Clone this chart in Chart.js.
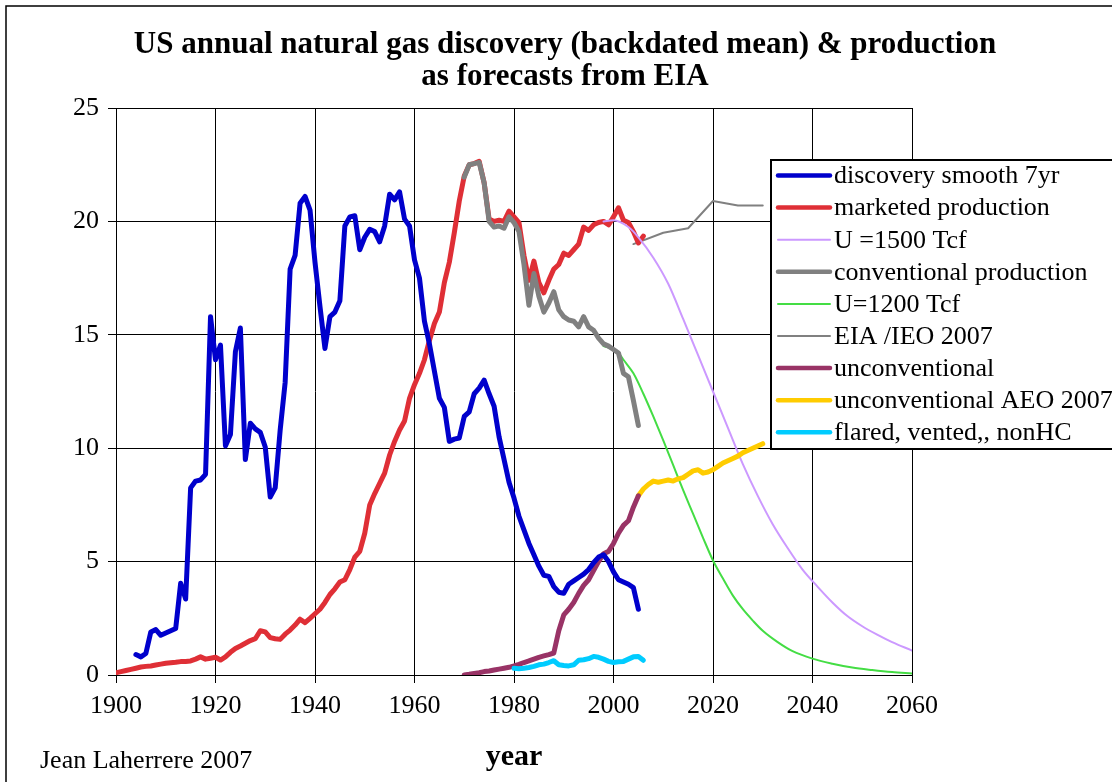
<!DOCTYPE html>
<html>
<head>
<meta charset="utf-8">
<title>US annual natural gas discovery & production</title>
<script src="https://cdn.jsdelivr.net/npm/chart.js@4.4.1/dist/chart.umd.min.js"></script>
<style>
  html, body { margin: 0; padding: 0; background: #fff; overflow: hidden; }
  #wrap { position: relative; width: 1112px; height: 782px; }
</style>
</head>
<body>
<div id="wrap"><canvas id="gasChart" width="1112" height="782"></canvas></div>
<script>
// US annual natural gas discovery (backdated mean) & production, Tcf/yr

const titleLines = ['US annual natural gas discovery (backdated mean) & production', 'as forecasts from EIA'];
const footerText = 'Jean Laherrere 2007';
const xTitle = 'year';

// discovery smooth 7yr, yearly from 1904
const discoveryStart = 1904;
const discoveryValues = [
  0.9, 0.8, 0.95, 1.9, 2.0, 1.75,
  1.85, 1.95, 2.05, 4.05, 3.35, 8.25, 8.55, 8.6, 8.85, 15.8,
  13.9, 14.55, 10.1, 10.6, 14.25, 15.3, 9.5, 11.1, 10.85, 10.7,
  10.05, 7.85, 8.25, 10.8, 12.9, 17.9, 18.5, 20.8, 21.1, 20.5,
  18.2, 16.25, 14.4, 15.8, 16.0, 16.5, 19.8, 20.2, 20.25, 18.75,
  19.3, 19.65, 19.55, 19.1, 19.8, 21.2, 20.95, 21.3, 20.1, 19.8,
  18.3, 17.5, 15.6, 14.6, 13.4, 12.2, 11.8, 10.3, 10.4, 10.45,
  11.4, 11.6, 12.4, 12.65, 13.0, 12.4, 11.85, 10.5, 9.5, 8.5,
  7.8, 7.0, 6.4, 5.8, 5.3, 4.8, 4.4, 4.35, 3.9, 3.65,
  3.6, 4.0, 4.15, 4.3, 4.45, 4.65, 4.95, 5.2, 5.3, 5.0,
  4.55, 4.2, 4.1, 4.0, 3.85, 2.9
];

// marketed production, yearly from 1900
const marketedStart = 1900;
const marketedValues = [
  0.1, 0.15, 0.2, 0.25, 0.3, 0.35, 0.38, 0.4, 0.44, 0.48,
  0.52, 0.54, 0.56, 0.59, 0.6, 0.62, 0.7, 0.8, 0.7, 0.74,
  0.78, 0.66, 0.8, 1.0, 1.17, 1.28, 1.4, 1.52, 1.6, 1.95,
  1.9, 1.65, 1.6, 1.57, 1.8, 1.98, 2.2, 2.46, 2.31, 2.5,
  2.7, 2.9, 3.2, 3.55, 3.8, 4.1, 4.2, 4.65, 5.2, 5.45,
  6.25, 7.5, 8.0, 8.45, 8.9, 9.7, 10.3, 10.8, 11.2, 12.2,
  12.8, 13.3, 13.9, 14.75, 15.5, 16.0, 17.3, 18.2, 19.5, 20.9,
  22.0, 22.5, 22.55, 22.65, 21.7, 20.1, 20.0, 20.05, 20.0, 20.45,
  20.2, 19.95, 18.5, 17.4, 18.25, 17.3, 16.85, 17.4, 17.9, 18.1,
  18.6, 18.5, 18.75, 19.0, 19.75, 19.6, 19.85, 19.95, 20.0, 19.85,
  20.2, 20.6, 20.05, 19.95, 19.55, 19.05, 19.35
];

// U = 1500 Tcf forecast
const u1500Years = [1998, 2000, 2003, 2005, 2008, 2011, 2014, 2017, 2020, 2023, 2026,
  2029, 2032, 2035, 2038, 2041, 2044, 2047, 2050, 2053, 2056, 2060];
const u1500Values = [20.0, 20.05, 19.75, 19.3, 18.4, 17.25, 15.7, 14.1, 12.5, 10.9, 9.3,
  7.9, 6.65, 5.6, 4.65, 3.9, 3.2, 2.6, 2.15, 1.78, 1.45, 1.08];

// conventional production, yearly from 1970
const conventionalStart = 1970;
const conventionalValues = [
  21.95, 22.5, 22.55, 22.6, 21.7, 20.0, 19.75, 19.8, 19.7, 20.2,
  19.95, 19.55, 18.1, 16.3, 17.7, 16.7, 16.0, 16.4, 16.9, 16.1,
  15.8, 15.65, 15.6, 15.35, 15.8, 15.35, 15.2, 14.85, 14.6, 14.5,
  14.35, 14.2, 13.3, 13.15, 12.1, 11.0
];

// U = 1200 Tcf forecast
const u1200Years = [1998, 2000, 2001, 2002, 2004, 2006, 2008, 2010, 2012, 2014, 2016, 2018, 2020,
  2022, 2024, 2026, 2028, 2030, 2033, 2036, 2040, 2044, 2048, 2052, 2056, 2060];
const u1200Values = [14.5, 14.35, 14.2, 13.9, 13.3, 12.4, 11.4, 10.35, 9.25, 8.15, 7.1, 6.05, 5.05,
  4.25, 3.5, 2.9, 2.4, 1.95, 1.45, 1.05, 0.72, 0.5, 0.33, 0.22, 0.13, 0.07];

// EIA / IEO 2007
const ieoYears = [2004, 2010, 2015, 2020, 2025, 2030];
const ieoValues = [19.0, 19.5, 19.7, 20.9, 20.7, 20.7];

// unconventional, yearly from 1970
const unconvStart = 1970;
const unconvValues = [
  0, 0.03, 0.07, 0.1, 0.15, 0.18, 0.22, 0.26, 0.3, 0.34,
  0.4, 0.47, 0.55, 0.62, 0.7, 0.78, 0.84, 0.9, 0.97, 1.95,
  2.65, 2.9, 3.2, 3.6, 3.95, 4.2, 4.6, 5.0, 5.35, 5.45,
  5.8, 6.25, 6.6, 6.8, 7.4, 7.9
];

// unconventional AEO 2007, yearly from 2005
const aeoStart = 2005;
const aeoValues = [
  7.9, 8.2, 8.4, 8.55, 8.5, 8.55, 8.6, 8.55, 8.65, 8.7,
  8.85, 9.0, 9.05, 8.9, 8.95, 9.05, 9.2, 9.35, 9.45, 9.55,
  9.65, 9.8, 9.9, 10.0, 10.1, 10.2
];

// flared, vented, nonHC, yearly from 1980
const flaredStart = 1980;
const flaredValues = [
  0.3, 0.28, 0.3, 0.33, 0.38, 0.45, 0.48, 0.55, 0.63, 0.45,
  0.42, 0.4, 0.45, 0.65, 0.67, 0.72, 0.82, 0.78, 0.7, 0.6,
  0.55, 0.58, 0.6, 0.7, 0.8, 0.82, 0.65
];

function yearly(start, values) {
  return values.map((v, i) => ({ x: start + i, y: v }));
}
function paired(years, values) {
  return years.map((yr, i) => ({ x: yr, y: values[i] }));
}

const SERIF = '"Liberation Serif", "Times New Roman", serif';
const THICK = 5;
const THIN = 2;

function line(label, data, color, width, order, smooth) {
  return {
    label: label,
    data: data,
    borderColor: color,
    backgroundColor: color,
    borderWidth: width,
    pointRadius: 0,
    fill: false,
    order: order,
    borderJoinStyle: 'round',
    borderCapStyle: 'round',
    cubicInterpolationMode: smooth ? 'monotone' : 'default',
    tension: 0
  };
}

// legend box + title + footer + outer frame
const decorPlugin = {
  id: 'decor',
  afterDraw(chart) {
    const ctx = chart.ctx;
    ctx.save();

    ctx.strokeStyle = '#000';
    ctx.lineWidth = 1.5;
    ctx.strokeRect(6, 6, 1300, 1000);

    ctx.fillStyle = '#000';
    ctx.textAlign = 'center';
    ctx.textBaseline = 'alphabetic';
    ctx.font = 'bold 31px ' + SERIF;
    ctx.fillText(titleLines[0], 565, 53);
    ctx.fillText(titleLines[1], 565, 85);

    ctx.textAlign = 'left';
    ctx.font = '26px ' + SERIF;
    ctx.fillText(footerText, 40, 768);

    // legend
    const boxLeft = 771, boxTop = 160, boxBottom = 449;
    ctx.fillStyle = '#fff';
    ctx.fillRect(boxLeft, boxTop, 400, boxBottom - boxTop);
    ctx.strokeStyle = '#000';
    ctx.lineWidth = 2;
    ctx.strokeRect(boxLeft, boxTop, 400, boxBottom - boxTop);

    ctx.font = '26px ' + SERIF;
    ctx.textBaseline = 'middle';
    chart.data.datasets.forEach((ds, i) => {
      const y = 175.5 + i * 32.1;
      ctx.strokeStyle = ds.borderColor;
      ctx.lineWidth = ds.borderWidth === THICK ? 4.5 : 2;
      ctx.lineCap = 'round';
      ctx.beginPath();
      ctx.moveTo(778, y);
      ctx.lineTo(830, y);
      ctx.stroke();
      ctx.fillStyle = '#000';
      ctx.fillText(ds.label, 834, y + 1);
    });
    ctx.restore();
  }
};

const ctx = document.getElementById('gasChart');
new Chart(ctx, {
  type: 'line',
  data: {
    datasets: [
      line('discovery smooth 7yr', yearly(discoveryStart, discoveryValues), '#0000cc', THICK, 1),
      line('marketed production', yearly(marketedStart, marketedValues), '#df2f36', THICK, 5),
      line('U =1500 Tcf', paired(u1500Years, u1500Values), '#cc99ff', THIN, 3, true),
      line('conventional production', yearly(conventionalStart, conventionalValues), '#808080', THICK, 2),
      line('U=1200 Tcf', paired(u1200Years, u1200Values), '#44dd44', THIN, 3, true),
      line('EIA /IEO 2007', paired(ieoYears, ieoValues), '#808080', THIN, 6),
      line('unconventional', yearly(unconvStart, unconvValues), '#993366', THICK, 2),
      line('unconventional AEO 2007', yearly(aeoStart, aeoValues), '#ffcc00', THICK, 2),
      line('flared, vented,, nonHC', yearly(flaredStart, flaredValues), '#00ccff', THICK, 1)
    ]
  },
  options: {
    responsive: false,
    animation: false,
    layout: { padding: { top: 108, right: 200, bottom: 0, left: 0 } },
    plugins: {
      legend: { display: false },
      title: { display: false },
      tooltip: { enabled: false }
    },
    scales: {
      x: {
        type: 'linear',
        min: 1900,
        max: 2060,
        afterFit: (scale) => { scale.height = 107; },
        ticks: {
          stepSize: 20,
          color: '#000',
          padding: 8,
          maxRotation: 0,
          font: { family: SERIF, size: 26 },
          callback: (v) => String(v)
        },
        grid: { color: '#000', lineWidth: 1, tickLength: 8 },
        border: { color: '#000', width: 1 },
        title: {
          display: true,
          text: xTitle,
          color: '#000',
          font: { family: SERIF, size: 30, weight: 'bold' },
          padding: { top: 0, bottom: 7 }
        }
      },
      y: {
        min: 0,
        max: 25,
        afterFit: (scale) => { scale.width = 116; },
        ticks: {
          stepSize: 5,
          color: '#000',
          padding: 9,
          font: { family: SERIF, size: 26 }
        },
        grid: { color: '#000', lineWidth: 1, tickLength: 8 },
        border: { color: '#000', width: 1 }
      }
    }
  },
  plugins: [decorPlugin]
});
</script>
</body>
</html>
